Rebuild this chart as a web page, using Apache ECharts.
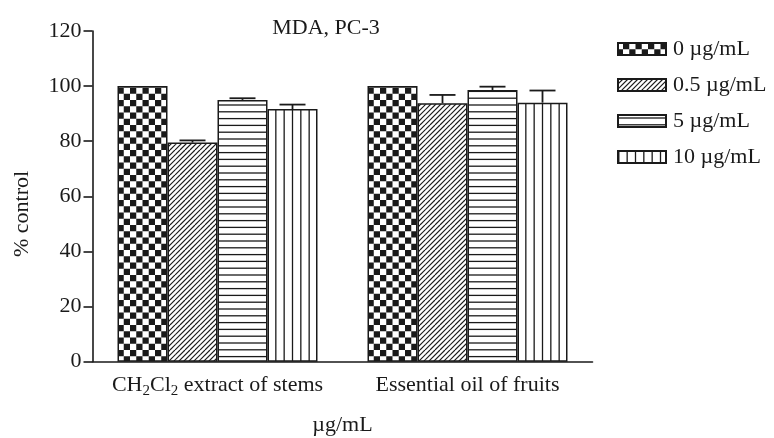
<!DOCTYPE html>
<html>
<head>
<meta charset="utf-8">
<script src="https://cdn.jsdelivr.net/npm/echarts@6/dist/echarts.min.js"></script>
<style>
  html, body { margin: 0; padding: 0; background: #fff; }
  #chart { width: 774px; height: 438px; }
</style>
</head>
<body>
<div id="chart"></div>
<script>
// MDA on PC-3 cells, % of control
const categories = ['CH2Cl2 extract of stems', 'Essential oil of fruits'];
const seriesNames = ['0 \u00b5g/mL', '0.5 \u00b5g/mL', '5 \u00b5g/mL', '10 \u00b5g/mL'];
const dose0 = [100, 100];
const dose05 = [79.5, 93.8];
const dose5 = [95.0, 98.6];
const dose10 = [91.7, 94.0];
// upper error (SD) for each bar
const err0 = [0, 0];
const err05 = [0.8, 3.0];
const err5 = [0.6, 1.2];
const err10 = [1.6, 4.4];
const yTicks = [0, 20, 40, 60, 80, 100, 120];

const FONT = '"Liberation Serif", "Times New Roman", serif';
const INK = '#1a1a1a';

function makeCanvas(w, h, draw) {
  const c = document.createElement('canvas');
  c.width = w; c.height = h;
  const ctx = c.getContext('2d');
  ctx.fillStyle = '#fff';
  ctx.fillRect(0, 0, w, h);
  ctx.fillStyle = INK; ctx.strokeStyle = INK;
  draw(ctx);
  return c;
}

// checkerboard
const checker = makeCanvas(25, 25, ctx => {
  const s = 6.25, ox = 5;
  for (let i = -1; i < 5; i++) {
    for (let j = -1; j < 5; j++) {
      if ((i + j) % 2 === 0) ctx.fillRect(ox + i * s, j * s, s, s);
    }
  }
});
// diagonal hatch
const hatch = makeCanvas(25, 25, ctx => {
  ctx.lineWidth = 1.2;
  for (let k = -5; k <= 10; k++) {
    ctx.beginPath();
    ctx.moveTo(k * 5, 25);
    ctx.lineTo(k * 5 + 25, 0);
    ctx.stroke();
  }
});
// horizontal lines
const horiz = makeCanvas(10, 34, ctx => {
  ctx.lineWidth = 1.3;
  for (let k = 0; k < 5; k++) {
    const y = k * 6.8 + 3;
    ctx.beginPath(); ctx.moveTo(0, y); ctx.lineTo(10, y); ctx.stroke();
  }
});
// vertical lines
const vert = makeCanvas(25, 10, ctx => {
  ctx.lineWidth = 1.3;
  for (let k = 0; k < 3; k++) {
    const x = 0.83 + k * 8.333;
    ctx.beginPath(); ctx.moveTo(x, 0); ctx.lineTo(x, 10); ctx.stroke();
  }
});

const fills = [checker, hatch, horiz, vert].map(c => ({ image: c, repeat: 'repeat' }));
const values = [dose0, dose05, dose5, dose10];
const errors = [err0, err05, err5, err10];

const barSeries = values.map((v, s) => ({
  name: seriesNames[s],
  type: 'bar',
  data: v,
  barGap: '0%',
  barCategoryGap: '20%',
  itemStyle: { color: fills[s], borderColor: INK, borderWidth: 1.5 },
  emphasis: { disabled: true }
}));

// error bar data: [category index, series index, value, error]
const errData = [];
values.forEach((v, s) => v.forEach((val, c) => errData.push([c, s, val, errors[s][c]])));

const errSeries = {
  type: 'custom',
  data: errData,
  encode: { x: 0, y: 2 },
  z: 5,
  silent: true,
  renderItem(params, api) {
    const c = api.value(0), s = api.value(1), val = api.value(2), e = api.value(3);
    if (!e) return;
    const band = api.size([1, 0])[0];
    const off = (s - 1.5) * band * 0.2;
    const base = api.coord([c, val]);
    const top = api.coord([c, val + e]);
    const x = base[0] + off;
    const half = 13;
    const style = { stroke: INK, lineWidth: 1.8 };
    return {
      type: 'group',
      children: [
        { type: 'line', shape: { x1: x, y1: base[1], x2: x, y2: top[1] }, style },
        { type: 'line', shape: { x1: x - half, y1: top[1], x2: x + half, y2: top[1] }, style }
      ]
    };
  }
};

const chart = echarts.init(document.getElementById('chart'), null, { renderer: 'canvas' });
chart.setOption({
  animation: false,
  backgroundColor: '#fff',
  textStyle: { fontFamily: FONT, color: INK },
  title: {
    text: 'MDA, PC-3',
    left: 321, top: 12, textAlign: 'center',
    textStyle: { fontFamily: FONT, fontWeight: 'normal', fontSize: 22, color: INK }
  },
  legend: {
    orient: 'vertical',
    left: 612, top: 33,
    itemWidth: 48, itemHeight: 12,
    itemGap: 14,
    icon: 'rect',
    data: seriesNames,
    textStyle: { fontFamily: FONT, fontSize: 22, color: INK, padding: [0, 0, 0, 2] }
  },
  grid: { left: 92.5, right: 181.5, top: 31, bottom: 76.3, containLabel: false, outerBoundsMode: 'none' },
  xAxis: {
    type: 'category',
    data: categories,
    name: '\u00b5g/mL',
    nameLocation: 'middle',
    nameGap: 53,
    nameTextStyle: { fontFamily: FONT, fontSize: 22, color: INK },
    axisLine: { lineStyle: { color: INK, width: 1.6 } },
    axisTick: { alignWithLabel: true, length: 9, lineStyle: { color: INK, width: 1.6 } },
    axisLabel: {
      interval: 0,
      margin: 12,
      formatter(v) {
        if (v.indexOf('CH2Cl2') === 0) {
          return '{n|CH}{s|2}{n|Cl}{s|2}{n|' + v.slice(6) + '}';
        }
        return '{n|' + v + '}';
      },
      rich: {
        n: { fontFamily: FONT, fontSize: 22, color: INK, lineHeight: 24 },
        s: { fontFamily: FONT, fontSize: 15, color: INK, lineHeight: 24, padding: [10, 0, 0, 0] }
      }
    }
  },
  yAxis: {
    type: 'value',
    min: yTicks[0], max: yTicks[yTicks.length - 1], interval: 20,
    splitLine: { show: false },
    axisLine: { show: true, lineStyle: { color: INK, width: 1.6 } },
    axisTick: { show: true, length: 9, lineStyle: { color: INK, width: 1.6 } },
    axisLabel: { fontFamily: FONT, fontSize: 22, color: INK, margin: 11 }
  },
  graphic: [{
    type: 'text',
    x: 22, y: 214,
    rotation: Math.PI / 2,
    style: {
      text: '% control',
      font: '22px ' + FONT,
      fill: INK,
      align: 'center',
      verticalAlign: 'middle'
    }
  }],
  series: [...barSeries, errSeries]
});
</script>
</body>
</html>
